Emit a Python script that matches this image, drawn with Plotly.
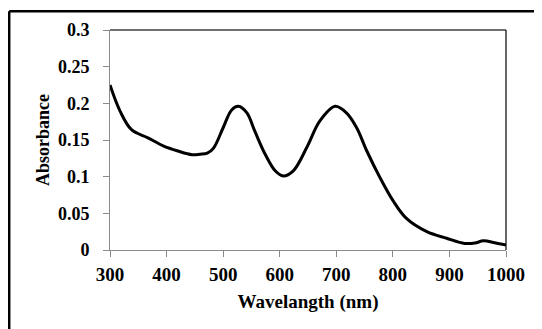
import plotly.graph_objects as go

wavelength = [300, 318, 338, 367, 394, 420, 445, 459, 472, 483, 500, 515, 527, 542, 556, 574, 592, 606, 624, 648, 671, 698, 718, 736, 754, 777, 800, 824, 860, 895, 927, 945, 960, 980, 1000]
absorbance = [0.225, 0.189, 0.164, 0.153, 0.142, 0.135, 0.130, 0.1306, 0.132, 0.139, 0.1667, 0.191, 0.196, 0.187, 0.162, 0.131, 0.108, 0.101, 0.108, 0.140, 0.176, 0.196, 0.187, 0.1667, 0.135, 0.099, 0.0676, 0.043, 0.025, 0.016, 0.009, 0.0095, 0.0125, 0.010, 0.0068]

x_ticks = [300, 400, 500, 600, 700, 800, 900, 1000]
y_ticks = [0, 0.05, 0.1, 0.15, 0.2, 0.25, 0.3]
y_tick_text = ["0", "0.05", "0.1", "0.15", "0.2", "0.25", "0.3"]

FONT = "Liberation Serif, Times New Roman, serif"

fig = go.Figure()
fig.add_trace(go.Scatter(x=wavelength, y=absorbance, mode="lines",
                         line=dict(color="black", width=3, shape="spline", smoothing=1.0),
                         showlegend=False, hoverinfo="skip"))

# the page body has an 8px margin, so figure coords = window coords - 8
OFF = 8
W, H = 542 - OFF, 329 - OFF
L, R, T, B = 110 - OFF, 506 - OFF, 28 - OFF, 250 - OFF

fig.update_layout(
    width=W, height=H,
    margin=dict(l=L, r=W - R, t=T, b=H - B),
    paper_bgcolor="white", plot_bgcolor="white",
    font=dict(family=FONT, color="black"),
    xaxis=dict(range=[300, 1000], tickvals=x_ticks, ticks="outside", ticklen=6,
               tickcolor="#8a8a8a", showline=True, linecolor="#8a8a8a", linewidth=1,
               showgrid=False, zeroline=False,
               tickfont=dict(family=FONT, size=19, color="black", weight="bold"),
               ticklabelstandoff=1,
               title=dict(text="<b>Wavelangth (nm)</b>", font=dict(family=FONT, size=19), standoff=10)),
    yaxis=dict(range=[0, 0.3], tickvals=y_ticks, ticktext=y_tick_text, ticks="outside", ticklen=6,
               tickcolor="#8a8a8a", showline=True, linecolor="#8a8a8a", linewidth=1,
               showgrid=False, zeroline=False,
               tickfont=dict(family=FONT, size=18, color="black", weight="bold"),
               ticklabelstandoff=10,
               title=dict(text="<b>Absorbance</b>", font=dict(family=FONT, size=18), standoff=3)),
)

def px2paper_x(px):
    return (px - L) / (R - L)

def px2paper_y(py):
    return (B - py) / (B - T)

# plot-area top (gray) and right (black) borders
fig.add_shape(type="line", xref="paper", yref="paper", x0=0, x1=1, y0=1, y1=1,
              line=dict(color="#6f6f6f", width=2))
fig.add_shape(type="line", xref="paper", yref="paper", x0=1, x1=1, y0=0, y1=1,
              line=dict(color="black", width=1.2))
# outer frame (left and top visible)
fig.add_shape(type="line", xref="paper", yref="paper",
              x0=px2paper_x(1.2), x1=px2paper_x(W + 5), y0=px2paper_y(1.2), y1=px2paper_y(1.2),
              line=dict(color="black", width=2.5))
fig.add_shape(type="line", xref="paper", yref="paper",
              x0=px2paper_x(1.2), x1=px2paper_x(1.2), y0=px2paper_y(1.2), y1=px2paper_y(H + 5),
              line=dict(color="black", width=2.5))

fig.write_html("out.html")
